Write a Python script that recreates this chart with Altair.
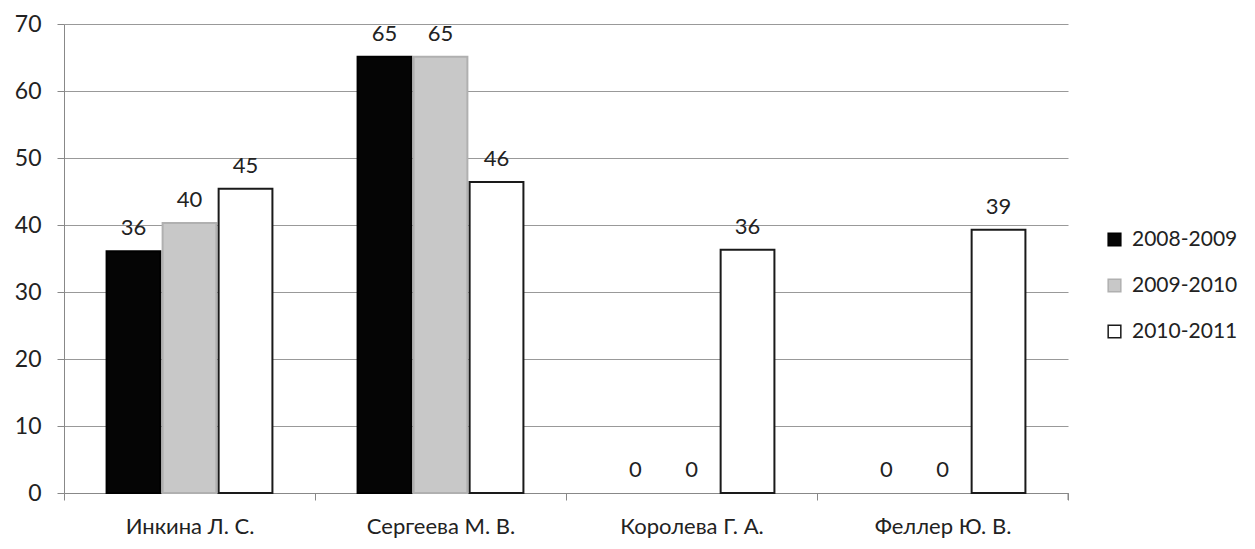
import altair as alt
import pandas as pd

teachers = ["Инкина Л. С.", "Сергеева М. В.", "Королева Г. А.", "Феллер Ю. В."]
series = ["2008-2009", "2009-2010", "2010-2011"]
v2008 = [36.1, 65.1, 0, 0]
v2009 = [40.3, 65.1, 0, 0]
v2010 = [45.4, 46.4, 36.3, 39.3]
y_ticks = [0, 10, 20, 30, 40, 50, 60, 70]

rows = []
for s, vals in zip(series, [v2008, v2009, v2010]):
    for t, v in zip(teachers, vals):
        rows.append({"teacher": t, "period": s, "value": v})
df = pd.DataFrame(rows)

FONT = "Lato"
W, H = 1004, 469

x = alt.X("teacher:N", sort=teachers, title=None,
          scale=alt.Scale(paddingInner=0, paddingOuter=0),
          axis=alt.Axis(labelFont=FONT, labelFontSize=22, labelColor="#222",
                        labelPadding=16, tickSize=7, tickColor="#888",
                        domainColor="#888", bandPosition=0, labelAngle=0,
                        tickBand="extent"))
xo = alt.XOffset("period:N", sort=series,
                 scale=alt.Scale(paddingInner=0.04, paddingOuter=0.76))
y = alt.Y("value:Q", title=None,
          scale=alt.Scale(domain=[0, 70], nice=False),
          axis=alt.Axis(values=y_ticks, labelFont=FONT, labelFontSize=23,
                        labelColor="#222", labelPadding=16, tickSize=7,
                        tickColor="#888", domainColor="#888",
                        gridColor="#999", gridWidth=1))

leg = alt.Legend(orient="none", legendX=1040, legendY=205,
                 labelFont=FONT, labelFontSize=21, labelColor="#222",
                 symbolType="square", symbolSize=160,
                 rowPadding=24, labelOffset=7)

bars = alt.Chart(df).mark_bar(strokeWidth=2).encode(
    x=x, xOffset=xo, y=y,
    fill=alt.Fill("period:N", sort=series, title=None,
                  scale=alt.Scale(domain=series, range=["#050505", "#c8c8c8", "#ffffff"]),
                  legend=leg),
    stroke=alt.Stroke("period:N", sort=series, title=None,
                      scale=alt.Scale(domain=series, range=["#000000", "#b0b0b0", "#1a1a1a"]),
                      legend=leg),
    strokeOpacity=alt.condition("datum.value == 0", alt.value(0), alt.value(1)),
)

labels = alt.Chart(df).mark_text(font=FONT, fontSize=22, color="#222",
                                 baseline="bottom", dy=-11).encode(
    x=alt.X("teacher:N", sort=teachers), xOffset=xo, y="value:Q",
    text=alt.Text("value:Q", format=".0f"),
)

end_tick = alt.Chart(pd.DataFrame({"a": [0]})).mark_rule(color="#888").encode(
    x=alt.value(W), y=alt.value(H), y2=alt.value(H + 7))

chart = alt.layer(bars, labels, end_tick).properties(
    width=W, height=H,
    autosize=alt.AutoSizeParams(type="none"),
    padding={"left": 56, "top": 16, "right": 178, "bottom": 48},
).configure_view(stroke=None).configure_axisX(grid=False)

chart.save("out.html", embed_options={"renderer": "svg", "actions": False})
